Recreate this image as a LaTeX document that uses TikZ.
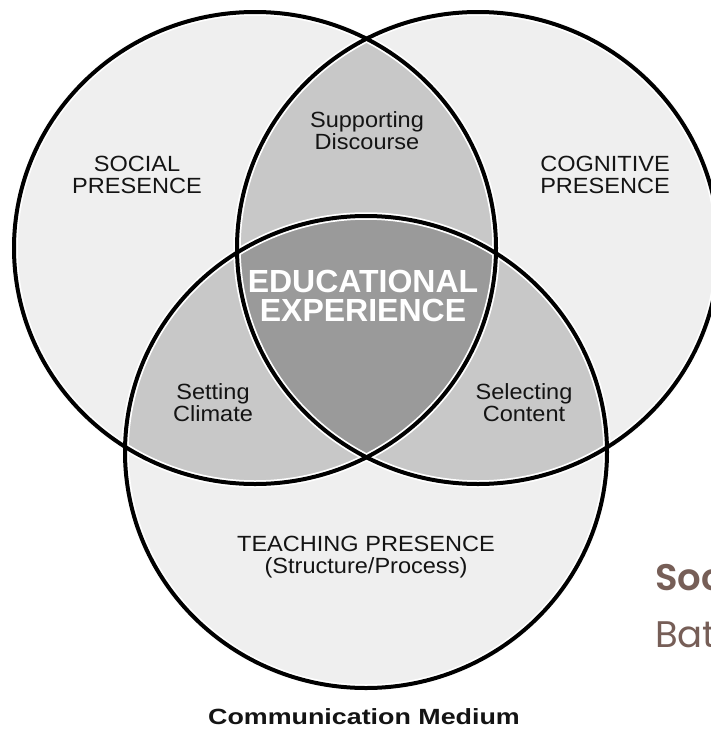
\documentclass[tikz,border=0pt]{standalone}
\usepackage{fontspec}
\setmainfont{Liberation Sans}
\newfontfamily\labelfont[FakeStretch=1.07]{Liberation Sans}
\newfontfamily\widebold[FakeStretch=1.22]{Liberation Sans Bold}
\newfontfamily\brandfont{Poppins}
\newfontfamily\brandbold{Poppins SemiBold}
\definecolor{ringfill}{RGB}{239,239,239}
\definecolor{pairfill}{RGB}{200,200,200}
\definecolor{corefill}{RGB}{154,154,154}
\definecolor{labelink}{RGB}{20,20,20}
\definecolor{brandbrown}{RGB}{118,94,87}
\begin{document}
\begin{tikzpicture}[x=1pt,y=-1pt,
  ring/.style={x radius=241, y radius=236},
  halo/.style={draw=white, line width=7.5pt},
  rim/.style={draw=black, line width=4pt},
  lbl/.style={align=center, text=labelink, inner sep=0pt,
    font=\labelfont\fontsize{22}{22}\selectfont},
  corelbl/.style={align=center, text=white, inner sep=0pt,
    font=\bfseries\fontsize{32}{29}\selectfont},
  brand/.style={anchor=base west, text=brandbrown, inner sep=0pt}]
\useasboundingbox (0,0) rectangle (711,731);
\clip (0,0) rectangle (711,731);
\fill[white] (0,0) rectangle (711,731);

% centres of the three presences
\coordinate (L) at (255,248);
\coordinate (R) at (478,248);
\coordinate (B) at (366,452);

% single-circle areas
\fill[ringfill] (L) ellipse [ring];
\fill[ringfill] (R) ellipse [ring];
\fill[ringfill] (B) ellipse [ring];

% pairwise overlaps
\begin{scope}
  \clip (L) ellipse [ring];
  \fill[pairfill] (R) ellipse [ring];
  \fill[pairfill] (B) ellipse [ring];
\end{scope}
\begin{scope}
  \clip (R) ellipse [ring];
  \fill[pairfill] (B) ellipse [ring];
\end{scope}

% triple overlap
\begin{scope}
  \clip (L) ellipse [ring];
  \clip (R) ellipse [ring];
  \fill[corefill] (B) ellipse [ring];
\end{scope}

% outlines
\foreach \c in {L,R,B} \draw[halo] (\c) ellipse [ring];
\foreach \c in {L,R,B} \draw[rim] (\c) ellipse [ring];

% labels
\node[lbl] (social) at (137,175) {SOCIAL\\PRESENCE};
\node[lbl] (cognitive) at (605,175) {COGNITIVE\\PRESENCE};
\node[lbl] (discourse) at (367,131) {Supporting\\Discourse};
\node[corelbl] (core) at (363,296) {EDUCATIONAL\\EXPERIENCE};
\node[lbl] (climate) at (213,403) {Setting\\Climate};
\node[lbl] (content) at (524,403) {Selecting\\Content};
\node[lbl] (teaching) at (366,557) {TEACHING PRESENCE\\(Structure/Process)};
\node[text=labelink, inner sep=0pt, font=\widebold\fontsize{22}{22}\selectfont]
  (medium) at (364,717) {Communication Medium};

% side heading, running off the right edge
\node[brand, font=\brandbold\fontsize{37}{37}\selectfont] (headA) at (655,590) {Soc};
\node[brand, font=\brandfont\fontsize{37}{37}\selectfont] (headB) at (655,647) {Bat};
\end{tikzpicture}
\end{document}
